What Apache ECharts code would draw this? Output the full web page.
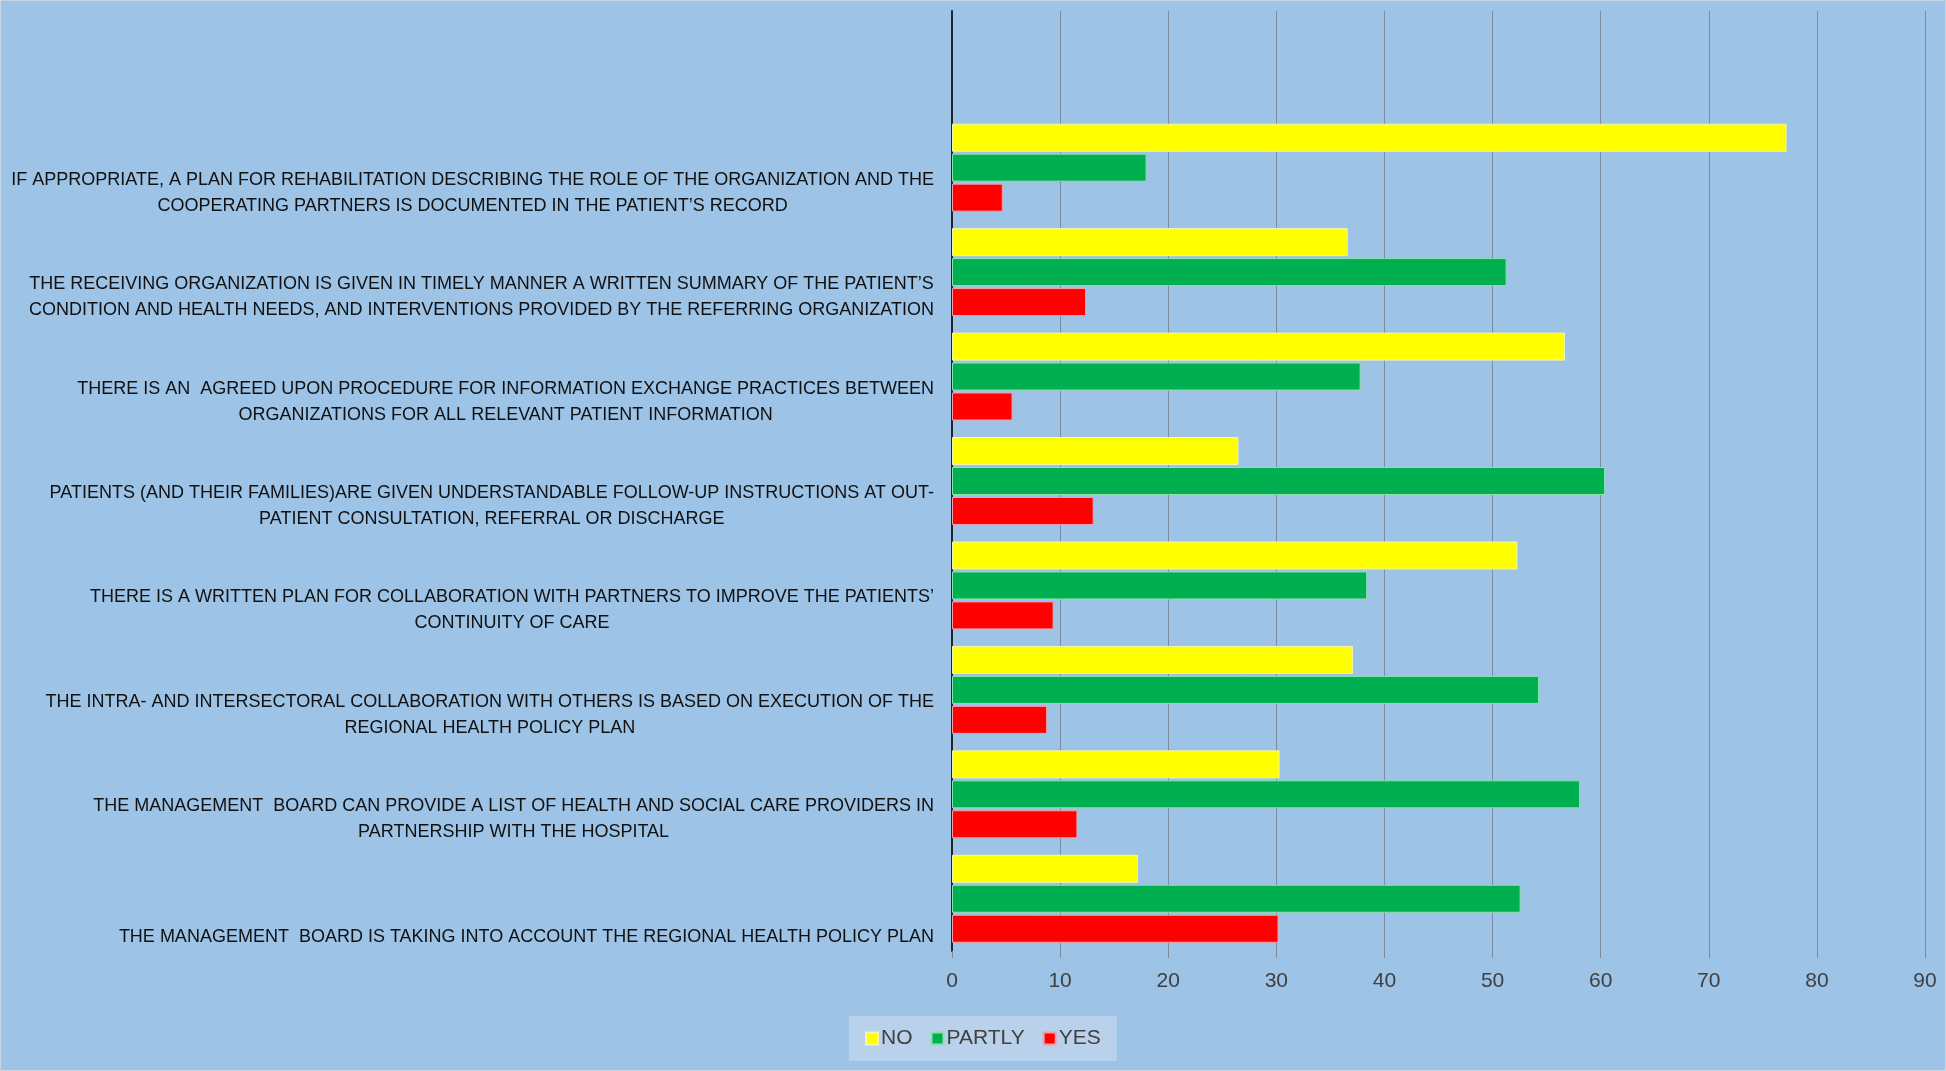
<!DOCTYPE html>
<html>
<head>
<meta charset="utf-8">
<script src="https://cdn.jsdelivr.net/npm/echarts@6/dist/echarts.min.js"></script>
<style>
html,body{margin:0;padding:0;background:#9dc3e6;}
#chart{width:1946px;height:1071px;box-sizing:border-box;border:1px solid #c9d6e3;}
</style>
</head>
<body>
<div id="chart"></div>
<script>
const categories = [
  'IF APPROPRIATE, A PLAN FOR REHABILITATION DESCRIBING THE ROLE OF THE ORGANIZATION AND THE\nCOOPERATING PARTNERS IS DOCUMENTED IN THE PATIENT\u2019S RECORD',
  'THE RECEIVING ORGANIZATION IS GIVEN IN TIMELY MANNER A WRITTEN SUMMARY OF THE PATIENT\u2019S\nCONDITION AND HEALTH NEEDS, AND INTERVENTIONS PROVIDED BY THE REFERRING ORGANIZATION',
  'THERE IS AN  AGREED UPON PROCEDURE FOR INFORMATION EXCHANGE PRACTICES BETWEEN\nORGANIZATIONS FOR ALL RELEVANT PATIENT INFORMATION',
  'PATIENTS (AND THEIR FAMILIES)ARE GIVEN UNDERSTANDABLE FOLLOW-UP INSTRUCTIONS AT OUT-\nPATIENT CONSULTATION, REFERRAL OR DISCHARGE',
  'THERE IS A WRITTEN PLAN FOR COLLABORATION WITH PARTNERS TO IMPROVE THE PATIENTS\u2019\nCONTINUITY OF CARE',
  'THE INTRA- AND INTERSECTORAL COLLABORATION WITH OTHERS IS BASED ON EXECUTION OF THE\nREGIONAL HEALTH POLICY PLAN',
  'THE MANAGEMENT  BOARD CAN PROVIDE A LIST OF HEALTH AND SOCIAL CARE PROVIDERS IN\nPARTNERSHIP WITH THE HOSPITAL',
  'THE MANAGEMENT  BOARD IS TAKING INTO ACCOUNT THE REGIONAL HEALTH POLICY PLAN'
];
const seriesNames = ['NO', 'PARTLY', 'YES'];
const noValues     = [77.2, 36.6, 56.7, 26.5, 52.3, 37.1, 30.3, 17.2];
const partlyValues = [18.0, 51.3, 37.8, 60.4, 38.4, 54.3, 58.1, 52.6];
const yesValues    = [4.7, 12.4, 5.6, 13.1, 9.4, 8.8, 11.6, 30.2];
const xTicks = { min: 0, max: 90, interval: 10 };

const colors = ['#ffff00', '#00b050', '#ff0000'];
const borders = ['#f4f7a8', '#8fe0b0', '#f0a0a8'];
const axisCats = [''].concat(categories);
const pad = v => [null].concat(v);
const allValues = [noValues, partlyValues, yesValues];

const chart = echarts.init(document.getElementById('chart'));
const labelFont = "'Liberation Sans', Arial, sans-serif";
chart.setOption({
  backgroundColor: '#9dc3e6',
  animation: false,
  grid: { left: 951, right: 20, top: 10, bottom: 119, containLabel: false, outerBoundsMode: 'none' },
  legend: {
    data: seriesNames,
    left: 848, top: 1015,
    backgroundColor: '#b9d1ea',
    padding: [12, 16],
    itemWidth: 12, itemHeight: 12, itemGap: 18,
    icon: 'rect',
    textStyle: { fontSize: 21, color: '#404040', fontFamily: labelFont, padding: [0, 0, 0, -2] }
  },
  xAxis: {
    type: 'value',
    min: xTicks.min, max: xTicks.max, interval: xTicks.interval,
    axisLine: { show: false },
    axisTick: { show: true, length: 7, lineStyle: { color: '#7b8ba0', width: 1 } },
    splitLine: { show: true, lineStyle: { color: '#7b8ba0', width: 1 } },
    axisLabel: { margin: 20, fontSize: 21, color: '#404040', fontFamily: labelFont }
  },
  yAxis: {
    type: 'category',
    inverse: true,
    data: axisCats,
    axisLine: { show: true, lineStyle: { color: '#262626', width: 2 } },
    axisTick: { show: false },
    splitLine: { show: false },
    axisLabel: {
      margin: 18,
      align: 'right',
      verticalAlign: 'bottom',
      padding: [0, 0, -51, 0],
      fontSize: 18,
      color: '#111111',
      fontFamily: labelFont,
      formatter: function (v) {
        if (!v) return '';
        return v.split('\n').map(s => '{c|' + s + '}').join('\n');
      },
      rich: { c: { align: 'center', fontSize: 18, lineHeight: 26, color: '#111111', fontFamily: labelFont } }
    }
  },
  series: seriesNames.map((n, i) => ({
    name: n,
    type: 'bar',
    data: pad(allValues[i]),
    barWidth: 28,
    barGap: '7%',
    itemStyle: { color: colors[i], borderColor: borders[i], borderWidth: 1 }
  }))
});
</script>
</body>
</html>
